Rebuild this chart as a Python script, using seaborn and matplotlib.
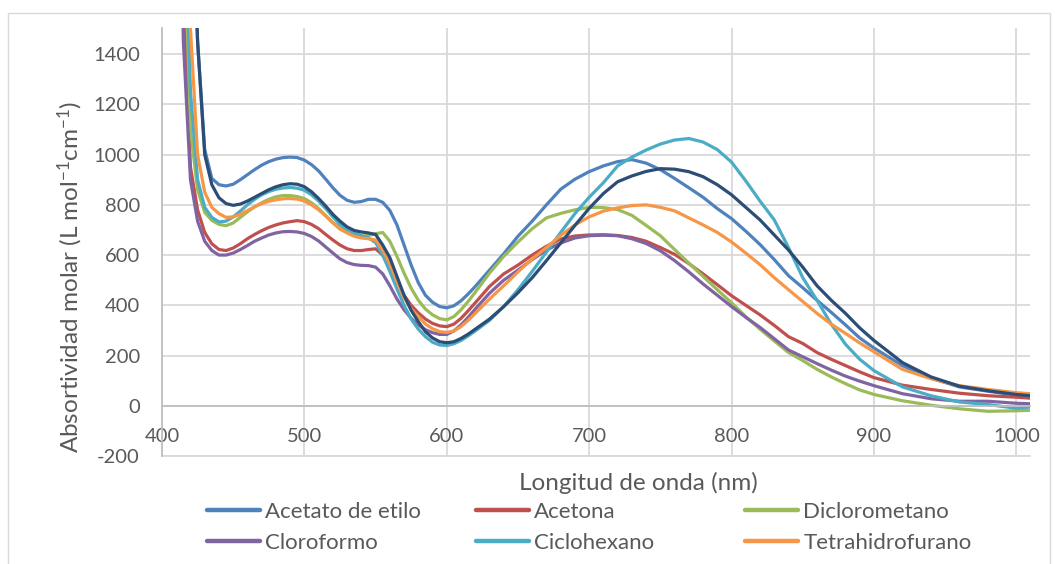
import matplotlib
matplotlib.use("Agg")
import matplotlib.pyplot as plt
import seaborn as sns
import pandas as pd
from matplotlib.lines import Line2D
from matplotlib.patches import Rectangle

# ---------------- data ----------------
wavelength = [410, 415, 420, 425, 430, 435, 440, 445, 450, 455, 460, 465, 470, 475, 480, 485, 490, 495,
              500, 505, 510, 515, 520, 525, 530, 535, 540, 545, 550, 555, 560, 565, 570, 575, 580, 585,
              590, 595, 600, 605, 610, 615, 620,
              630, 640, 650, 660, 670, 680, 690, 700, 710, 720, 730, 740, 750, 760, 770, 780, 790, 800,
              810, 820, 830, 840, 850, 860, 870, 880, 890, 900, 920, 940, 960, 980, 1000, 1010]

acetato_de_etilo = [4000, 3000, 2200, 1450, 1020, 905, 880, 875, 882, 900, 920, 940, 958, 972, 982, 988, 990, 988,
                    978, 960, 935, 902, 868, 838, 818, 810, 813, 822, 822, 810, 778, 720, 640, 560, 490, 440,
                    412, 395, 390, 398, 418, 445, 475,
                    540, 605, 675, 735, 800, 862, 902, 932, 955, 972, 980, 966, 940, 905, 868, 830, 785, 745,
                    695, 642, 582, 518, 470, 420, 372, 322, 270, 230, 160, 110, 75, 58, 42, 38]

acetona = [3500, 1650, 950, 780, 690, 645, 622, 618, 628, 645, 665, 682, 697, 710, 720, 728, 733, 737,
           733, 722, 705, 682, 660, 640, 625, 618, 618, 622, 625, 600, 555, 495, 440, 400, 370, 345,
           328, 318, 315, 325, 348, 378, 410,
           475, 525, 560, 600, 635, 664, 676, 680, 681, 678, 670, 655, 630, 603, 566, 525, 482, 438,
           400, 362, 320, 275, 248, 212, 185, 160, 135, 112, 82, 65, 50, 40, 34, 30]

diclorometano = [4000, 2000, 1100, 860, 770, 738, 722, 717, 728, 750, 772, 792, 808, 822, 832, 837, 837, 833,
                 825, 808, 785, 757, 730, 708, 692, 680, 675, 678, 685, 690, 655, 595, 528, 468, 420, 385,
                 362, 347, 342, 355, 382, 415, 452,
                 528, 595, 652, 705, 748, 766, 780, 790, 789, 781, 758, 718, 677, 622, 568, 515, 462, 410,
                 355, 305, 258, 212, 180, 145, 115, 88, 63, 45, 20, 2, -12, -22, -20, -18]

cloroformo = [3000, 1450, 900, 735, 655, 618, 600, 600, 608, 622, 638, 655, 668, 680, 688, 693, 694, 692,
              686, 674, 656, 632, 608, 585, 570, 562, 559, 558, 552, 525, 478, 425, 382, 348, 322, 303,
              291, 284, 284, 298, 322, 352, 385,
              448, 500, 540, 582, 620, 648, 668, 677, 679, 677, 665, 646, 617, 578, 533, 485, 440, 395,
              352, 312, 267, 222, 195, 168, 142, 118, 98, 80, 48, 28, 18, 18, 10, 8]

ciclohexano = [4000, 2200, 1250, 900, 790, 750, 732, 735, 752, 775, 800, 822, 840, 853, 862, 867, 869, 866,
               858, 840, 815, 785, 752, 722, 702, 688, 678, 668, 650, 600, 535, 465, 400, 345, 305, 275,
               253, 242, 240, 247, 260, 278, 298,
               340, 395, 462, 535, 612, 690, 765, 830, 888, 955, 990, 1018, 1042, 1058, 1064, 1050, 1020, 970,
               895, 815, 740, 630, 510, 420, 325, 245, 185, 140, 75, 40, 15, 5, -10, -5]

tetrahidrofurano = [4500, 2800, 1500, 1000, 850, 790, 765, 750, 752, 762, 777, 792, 805, 814, 820, 824, 825, 823,
                    815, 800, 780, 755, 728, 703, 688, 675, 668, 665, 660, 620, 565, 495, 430, 385, 355, 325,
                    307, 295, 292, 298, 315, 340, 368,
                    425, 478, 533, 585, 630, 678, 720, 752, 775, 788, 797, 800, 790, 776, 748, 720, 690, 652,
                    608, 562, 510, 462, 415, 368, 325, 288, 250, 215, 145, 108, 80, 65, 52, 48]

serie_7 = [5000, 3200, 2300, 1450, 1000, 880, 828, 805, 798, 803, 815, 830, 845, 860, 872, 880, 884, 882,
           872, 852, 825, 795, 762, 735, 712, 698, 692, 688, 682, 640, 590, 515, 440, 380, 335, 295,
           270, 255, 251, 255, 268, 285, 305,
           345, 395, 450, 510, 578, 648, 718, 786, 845, 892, 915, 933, 944, 942, 932, 912, 880, 840,
           790, 740, 680, 620, 552, 478, 420, 368, 310, 260, 172, 115, 78, 60, 45, 40]

series_names = ["Acetato de etilo", "Acetona", "Diclorometano", "Cloroformo",
                "Ciclohexano", "Tetrahidrofurano", "Serie 7"]
series_values = [acetato_de_etilo, acetona, diclorometano, cloroformo,
                 ciclohexano, tetrahidrofurano, serie_7]
series_colors = ["#4F81BD", "#C0504D", "#9BBB59", "#8064A2", "#4BACC6", "#F79646", "#2C4D75"]

x_ticks = [400, 500, 600, 700, 800, 900, 1000]
y_ticks = [-200, 0, 200, 400, 600, 800, 1000, 1200, 1400]

# ---------------- style ----------------
sns.set_theme(style="white")
plt.rcParams["font.family"] = ["Lato", "DejaVu Sans"]
plt.rcParams["mathtext.fontset"] = "custom"
plt.rcParams["mathtext.rm"] = "Lato"
plt.rcParams["mathtext.it"] = "Lato:italic"
plt.rcParams["mathtext.bf"] = "Lato:bold"
plt.rcParams["axes.unicode_minus"] = False

TXT = "#595959"
GRID = "#D9D9D9"

rows = []
for name, vals in zip(series_names, series_values):
    for w, v in zip(wavelength, vals):
        rows.append({"nm": w, "abs": v, "serie": name})
df = pd.DataFrame(rows)

W, H = 1055, 564
fig = plt.figure(figsize=(W / 100, H / 100), dpi=100)
fig.patch.set_facecolor("white")
fig.patches.append(Rectangle((8 / W, -0.05), (1050 - 8) / W, 1.05 - 13 / H,
                             transform=fig.transFigure, fill=False,
                             edgecolor=GRID, linewidth=1.0))

ax = fig.add_axes([162 / W, 1 - 456 / H, (1030 - 162) / W, (456 - 28) / H])
sns.lineplot(data=df, x="nm", y="abs", hue="serie", hue_order=series_names,
             palette=dict(zip(series_names, series_colors)), estimator=None,
             sort=False, linewidth=2.3, legend=False, ax=ax)

ax.set_xlim(400, 1009.6)
ax.set_ylim(-200, 1504)
ax.set_xticks(x_ticks)
ax.set_yticks(y_ticks)
ax.grid(True, color=GRID, linewidth=1.3)
ax.set_axisbelow(True)
for s in ["top", "right"]:
    ax.spines[s].set_visible(False)
ax.spines["left"].set_color("#BFBFBF")
ax.spines["left"].set_linewidth(1.3)
ax.spines["bottom"].set_position(("data", 0))
ax.spines["bottom"].set_color("#BFBFBF")
ax.spines["bottom"].set_linewidth(1.3)
ax.axhline(-200, color=GRID, linewidth=1.3, clip_on=False, zorder=0)
ax.tick_params(axis="both", length=0, labelsize=14.5, labelcolor=TXT)
ax.tick_params(axis="y", pad=16)
ax.tick_params(axis="x", pad=16)
ax.set_xlabel("")
ax.set_ylabel("")

fig.text(70 / W, 1 - 277 / H, r"Absortividad molar (L mol$^{\mathregular{-1}}$cm$^{\mathregular{-1}}$)",
         rotation=90, ha="center", va="center", fontsize=17.5, color=TXT)
fig.text(638 / W, 1 - 483 / H, "Longitud de onda (nm)", ha="center", va="center",
         fontsize=17.5, color=TXT)

# legend: three columns of two rows, row-major order like the reference
col_x = [207, 476, 745]
for c in range(3):
    idx = [c, c + 3]
    handles = [Line2D([], [], color=series_colors[i], linewidth=3.2) for i in idx]
    labels = [series_names[i] for i in idx]
    fig.legend(handles, labels, loc="upper left",
               bbox_to_anchor=(col_x[c] / W, 1 - 502 / H), frameon=False,
               borderpad=0, borderaxespad=0, handlelength=2.4, handletextpad=0.22,
               labelspacing=0.5, fontsize=16, labelcolor=TXT)

fig.savefig("out.png", dpi=100)
